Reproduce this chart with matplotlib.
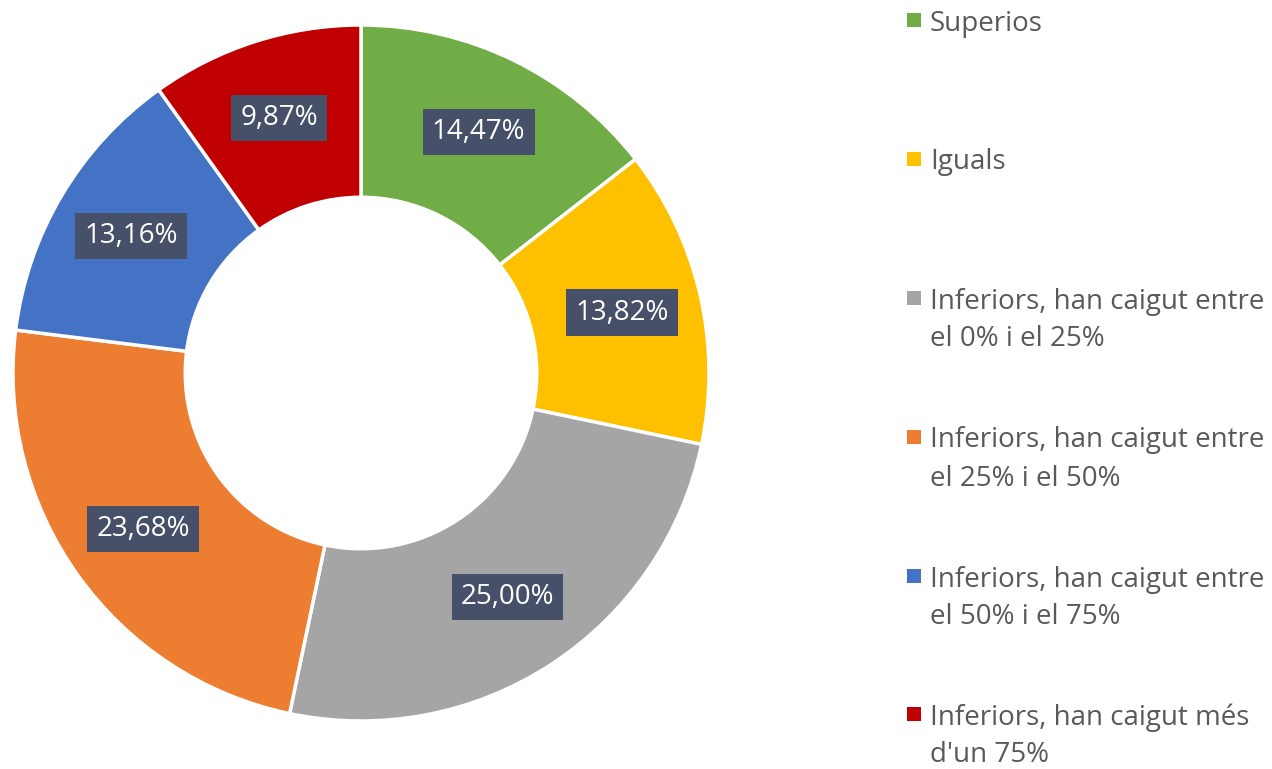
import numpy as np
import matplotlib.pyplot as plt
from matplotlib.patches import Rectangle

plt.rcParams['font.family'] = ['Open Sans', 'DejaVu Sans']

categories = [
    "Superios",
    "Iguals",
    "Inferiors, han caigut entre\nel 0% i el 25%",
    "Inferiors, han caigut entre\nel 25% i el 50%",
    "Inferiors, han caigut entre\nel 50% i el 75%",
    "Inferiors, han caigut més\nd'un 75%",
]
values = [14.47, 13.82, 25.00, 23.68, 13.16, 9.87]
value_labels = ["14,47%", "13,82%", "25,00%", "23,68%", "13,16%", "9,87%"]
colors = ["#70AD47", "#FFC000", "#A5A5A5", "#ED7D31", "#4472C4", "#C00000"]

W, H = 1272, 769
fig = plt.figure(figsize=(W / 100, H / 100), dpi=100)

# donut: centre (361, 373) px, outer radius 348 px
cx, cy, R = 361, 373, 348
ax = fig.add_axes([(cx - R) / W, (H - cy - R) / H, 2 * R / W, 2 * R / H])
ax.pie(values, colors=colors, startangle=90, counterclock=False, radius=1.0,
       wedgeprops=dict(width=0.495, edgecolor="white", linewidth=2.5))
ax.set_xlim(-1, 1)
ax.set_ylim(-1, 1)
ax.set_aspect("equal")
ax.axis("off")

start = 90.0
for v, lab in zip(values, value_labels):
    mid = np.deg2rad(start - v * 3.6 / 2)
    start -= v * 3.6
    r = 0.77
    ax.text(r * np.cos(mid), r * np.sin(mid), lab, ha="center", va="center",
            fontsize=20, color="white",
            bbox=dict(boxstyle="square,pad=0.33", facecolor="#475069", edgecolor="none"))

# legend, drawn by hand so wrapped entries keep the marker on the first line
leg_y = [20, 159, 298, 437, 576, 714]
line_step = 38
for y, c, lab in zip(leg_y, colors, categories):
    fig.patches.append(Rectangle((907 / W, (H - y - 7) / H), 14 / W, 14 / H,
                                 transform=fig.transFigure, facecolor=c, edgecolor="none"))
    for k, line in enumerate(lab.split("\n")):
        fig.text(930 / W, (H - y - k * line_step) / H, line, ha="left",
                 va="center_baseline", fontsize=20, color="#595959")

fig.savefig("out.png", dpi=100)
